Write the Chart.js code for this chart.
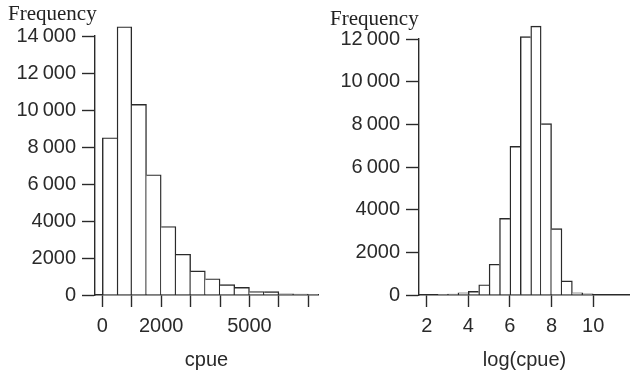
<!DOCTYPE html>
<html>
<head>
<meta charset="utf-8">
<script src="https://cdn.jsdelivr.net/npm/chart.js@4"></script>
<style>
  html, body { margin: 0; padding: 0; background: #fff; }
  body { width: 630px; height: 375px; position: relative; overflow: hidden; }
  .wrap { position: absolute; top: 0; height: 375px; }
  .ylab { position: absolute; font-family: "Liberation Serif", serif; font-size: 21px; line-height: 21px; color: #222; white-space: nowrap; }
</style>
</head>
<body>
<div class="wrap" style="left:0;width:330px;"><canvas id="c1" width="330" height="375"></canvas></div>
<div class="wrap" style="left:330px;width:300px;"><canvas id="c2" width="300" height="375"></canvas></div>
<div class="ylab" style="left:8px;top:3px;">Frequency</div>
<div class="ylab" style="left:330px;top:8px;">Frequency</div>
<script>
// ---- data ----
const cpueBinCenters = [250, 750, 1250, 1750, 2250, 2750, 3250, 3750, 4250, 4750, 5250, 5750, 6250, 6750, 7250];
const cpueCounts     = [8500, 14500, 10300, 6500, 3700, 2200, 1300, 880, 560, 410, 190, 180, 60, 50, 40];
const logBinCenters  = [2.75, 3.25, 3.75, 4.25, 4.75, 5.25, 5.75, 6.25, 6.75, 7.25, 7.75, 8.25, 8.75, 9.25, 9.75];
const logCounts      = [30, 40, 100, 170, 480, 1440, 3590, 6970, 12110, 12600, 8030, 3110, 660, 100, 50];
const cpueXTicks     = [0, 1000, 2000, 3000, 4000, 5000, 6000, 7000];
const cpueXLabels    = ['0', '', '2000', '', '', '5000', '', ''];
const logXTicks      = [2, 4, 6, 8, 10];
const logXLabels     = ['2', '4', '6', '8', '10'];
const cpueYTicks     = [0, 2000, 4000, 6000, 8000, 10000, 12000, 14000];
const cpueYLabels    = ['0', '2000', '4000', '6\u2009000', '8\u2009000', '10\u2009000', '12\u2009000', '14\u2009000'];
const logYTicks      = [0, 2000, 4000, 6000, 8000, 10000, 12000];
const logYLabels     = ['0', '2000', '4000', '6\u2009000', '8\u2009000', '10\u2009000', '12\u2009000'];

const INK = '#2a2a2a';
const LW = 1.4;
const tickFont = { family: '"Liberation Sans", Arial, sans-serif', size: 20 };

function makeChart(id, cfg) {
  const xMap = new Map(cfg.xTicks.map((v, i) => [v, cfg.xLabels[i]]));
  const yMap = new Map(cfg.yTicks.map((v, i) => [v, cfg.yLabels[i]]));
  const counts = cfg.counts;
  // shared edges between adjacent bins drawn only once (by the taller bin)
  const edgeWidths = ctx => {
    const i = ctx.dataIndex;
    const v = counts[i];
    const prev = i > 0 ? counts[i - 1] : -1;
    const next = i < counts.length - 1 ? counts[i + 1] : -1;
    return { top: LW, bottom: 0, left: v >= prev ? LW : 0, right: v > next ? LW : 0 };
  };
  return new Chart(document.getElementById(id), {
    type: 'bar',
    data: {
      datasets: [{
        data: cfg.centers.map((c, i) => ({ x: c, y: counts[i] })),
        backgroundColor: '#ffffff',
        borderColor: INK,
        borderWidth: edgeWidths,
        borderSkipped: false,
        barPercentage: 1,
        categoryPercentage: 1,
        clip: { left: 0, right: 0, top: false, bottom: 0 }
      }]
    },
    options: {
      responsive: false,
      animation: false,
      layout: { padding: { top: cfg.top, right: cfg.right, bottom: 0, left: 0 } },
      plugins: { legend: { display: false }, tooltip: { enabled: false } },
      scales: {
        x: {
          type: 'linear',
          offset: false,
          min: cfg.xMin, max: cfg.xMax,
          afterBuildTicks: s => { s.ticks = cfg.xTicks.map(v => ({ value: v })); },
          afterFit: s => { s.height = 80; },
          ticks: {
            autoSkip: false, maxRotation: 0, color: INK, font: tickFont, padding: 7,
            callback: v => xMap.has(v) ? xMap.get(v) : ''
          },
          grid: { display: true, offset: false, drawOnChartArea: false, drawTicks: true, tickLength: 12, tickColor: INK, tickWidth: LW },
          border: { display: true, color: INK, width: LW },
          title: { display: true, text: cfg.title, color: INK, font: { family: '"Liberation Sans", Arial, sans-serif', size: 20 }, padding: { top: 0, bottom: 3 } }
        },
        y: {
          type: 'linear',
          min: 0, max: cfg.yMax,
          afterBuildTicks: s => { s.ticks = cfg.yTicks.map(v => ({ value: v })); },
          afterFit: s => { s.width = cfg.yWidth; },
          ticks: {
            autoSkip: false, color: INK, font: tickFont, padding: 6,
            callback: v => yMap.has(v) ? yMap.get(v) : ''
          },
          grid: { display: true, drawOnChartArea: false, drawTicks: true, tickLength: 13, tickColor: INK, tickWidth: LW },
          border: { display: true, color: INK, width: LW }
        }
      }
    }
  });
}

makeChart('c1', {
  centers: cpueBinCenters, counts: cpueCounts,
  xMin: -250, xMax: 7330, xTicks: cpueXTicks, xLabels: cpueXLabels,
  yMax: 14000, yTicks: cpueYTicks, yLabels: cpueYLabels,
  title: 'cpue', top: 36, right: 12, yWidth: 95
});
makeChart('c2', {
  centers: logBinCenters, counts: logCounts,
  xMin: 1.63, xMax: 11.77, xTicks: logXTicks, xLabels: logXLabels,
  yMax: 12000, yTicks: logYTicks, yLabels: logYLabels,
  title: 'log(cpue)', top: 39, right: 0, yWidth: 89
});
</script>
</body>
</html>
